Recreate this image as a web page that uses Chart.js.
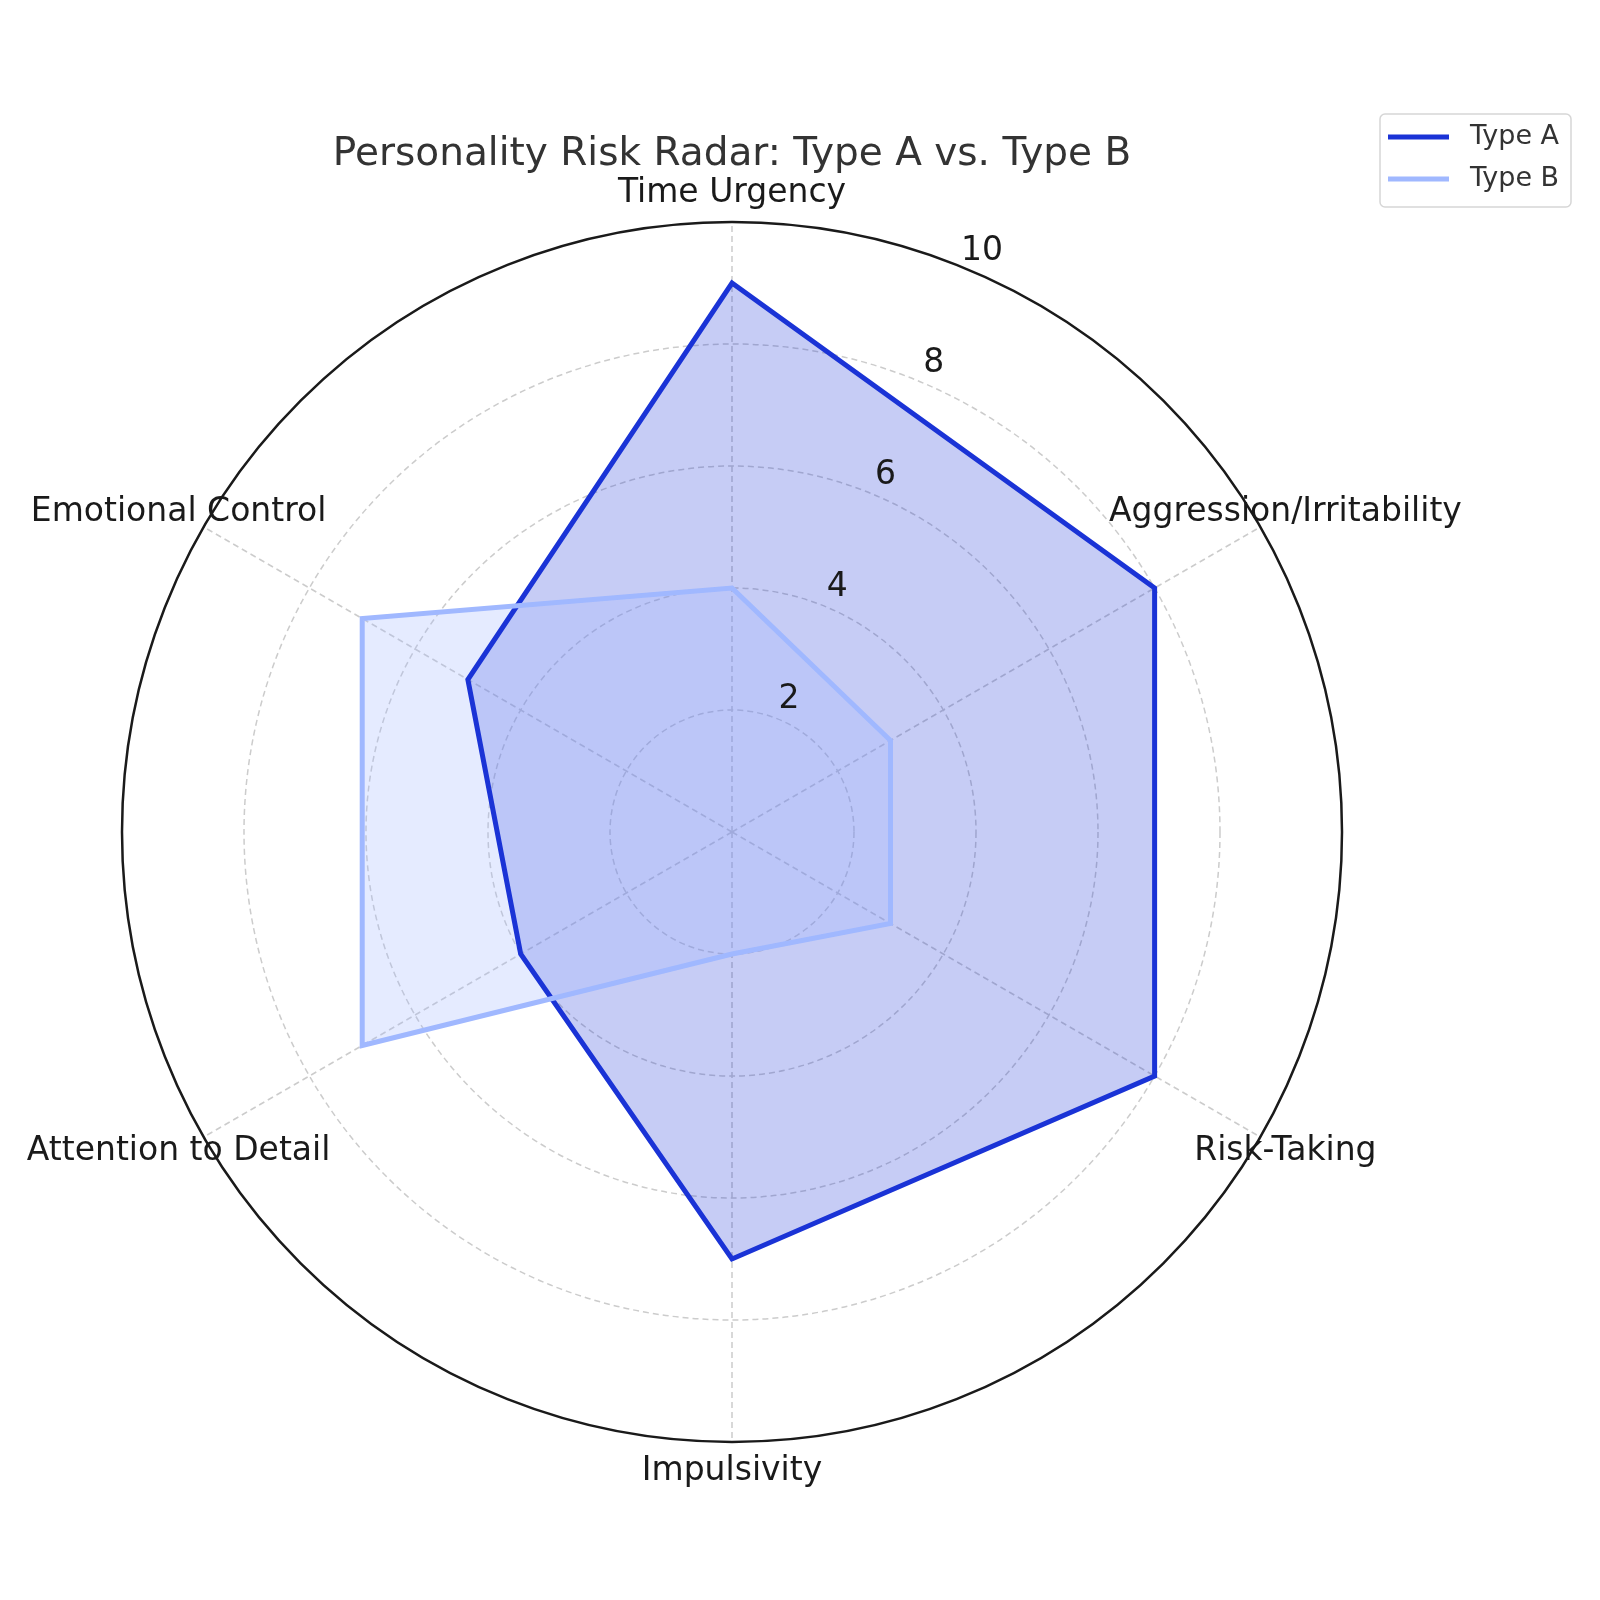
<!DOCTYPE html>
<html>
<head>
<meta charset="utf-8">
<script src="https://cdn.jsdelivr.net/npm/chart.js@4.4.1/dist/chart.umd.min.js"></script>
<style>
  html, body { margin: 0; padding: 0; background: #fff; }
  #wrap { width: 1600px; height: 1600px; position: relative; }
</style>
</head>
<body>
<div id="wrap"><canvas id="radar"></canvas></div>
<script>
// datos del radar
const categorias = ['Time Urgency', 'Aggression/Irritability', 'Risk-Taking', 'Impulsivity', 'Attention to Detail', 'Emotional Control'];
const valoresTipoA = [9, 8, 8, 7, 4, 5];
const valoresTipoB = [4, 3, 3, 2, 7, 7];
const ticksRadio = [2, 4, 6, 8, 10];
const nombresSeries = ['Type A', 'Type B'];

const COLOR_A = '#1a33d6';
const COLOR_B = '#a0b8ff';
const FUENTE = "'DejaVu Sans', sans-serif";

// textos extra: titulo, etiquetas de ejes, ticks y leyenda
const textosRadar = {
  id: 'textosRadar',
  afterDraw(chart) {
    const ctx = chart.ctx;
    const r = chart.scales.r;
    const cx = r.xCenter, cy = r.yCenter;
    ctx.save();

    // titulo
    ctx.fillStyle = '#333333';
    ctx.font = '39px ' + FUENTE;
    ctx.textAlign = 'center';
    ctx.textBaseline = 'middle';
    ctx.fillText('Personality Risk Radar: Type A vs. Type B', cx, 155);

    // etiquetas de categorias
    ctx.fillStyle = '#1a1a1a';
    ctx.font = '33px ' + FUENTE;
    const n = chart.data.labels.length;
    chart.data.labels.forEach((lab, i) => {
      const ang = -Math.PI / 2 + i * 2 * Math.PI / n;
      const d = r.drawingArea + 29;
      ctx.fillText(lab, cx + d * Math.cos(ang), cy + d * Math.sin(ang));
    });

    // etiquetas radiales
    const angT = -Math.PI / 2 + 23.3 * Math.PI / 180;
    ticksRadio.forEach(v => {
      const d = r.getDistanceFromCenterForValue(v) + 22;
      ctx.fillText(String(v), cx + d * Math.cos(angT), cy + d * Math.sin(angT));
    });

    // leyenda
    const lx = 1380, ly = 114, lw = 191, lh = 93;
    ctx.beginPath();
    ctx.roundRect(lx, ly, lw, lh, 5);
    ctx.fillStyle = 'rgba(255,255,255,0.8)';
    ctx.fill();
    ctx.strokeStyle = '#d6d6d6';
    ctx.lineWidth = 1.5;
    ctx.stroke();
    [COLOR_A, COLOR_B].forEach((c, i) => {
      const y = 137 + i * 42;
      ctx.beginPath();
      ctx.moveTo(1388, y);
      ctx.lineTo(1449, y);
      ctx.strokeStyle = c;
      ctx.lineWidth = 5;
      ctx.stroke();
      ctx.fillStyle = '#333333';
      ctx.font = '27px ' + FUENTE;
      ctx.textAlign = 'left';
      ctx.fillText(nombresSeries[i], 1470, y);
    });
    ctx.restore();
  }
};

// rellenos debajo, lineas encima (order menor = se dibuja arriba)
new Chart(document.getElementById('radar'), {
  type: 'radar',
  data: {
    labels: categorias,
    datasets: [
      {
        label: nombresSeries[0],
        data: valoresTipoA,
        borderColor: COLOR_A,
        borderWidth: 5,
        pointRadius: 0,
        fill: false,
        order: 1
      },
      {
        label: nombresSeries[1],
        data: valoresTipoB,
        borderColor: COLOR_B,
        borderWidth: 5,
        pointRadius: 0,
        fill: false,
        order: 0
      },
      {
        label: nombresSeries[0] + ' relleno',
        data: valoresTipoA,
        borderWidth: 0,
        backgroundColor: 'rgba(26,51,214,0.25)',
        pointRadius: 0,
        fill: true,
        order: 3
      },
      {
        label: nombresSeries[1] + ' relleno',
        data: valoresTipoB,
        borderWidth: 0,
        backgroundColor: 'rgba(160,184,255,0.28)',
        pointRadius: 0,
        fill: true,
        order: 2
      }
    ]
  },
  options: {
    responsive: true,
    maintainAspectRatio: false,
    animation: false,
    layout: { padding: { left: 122, top: 222, right: 258, bottom: 158 } },
    plugins: {
      legend: { display: false },
      title: { display: false },
      tooltip: { enabled: false }
    },
    scales: {
      r: {
        z: 1,
        min: 0,
        max: 10,
        ticks: { stepSize: 2, display: false },
        pointLabels: { display: false },
        grid: {
          circular: true,
          color: c => c.tick && c.tick.value === 10 ? '#1a1a1a' : '#cccccc',
          lineWidth: c => c.tick && c.tick.value === 10 ? 2.5 : 1.5
        },
        border: {
          dash: c => c.tick && c.tick.value === 10 ? [] : [6, 4]
        },
        angleLines: {
          color: '#cccccc',
          lineWidth: 1.5,
          borderDash: [6, 4]
        }
      }
    }
  },
  plugins: [textosRadar]
});
</script>
</body>
</html>
